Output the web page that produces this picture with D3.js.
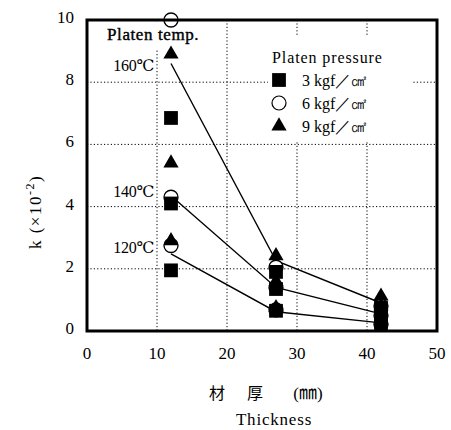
<!DOCTYPE html>
<html>
<head>
<meta charset="utf-8">
<script src="https://cdn.jsdelivr.net/npm/d3@7"></script>
<style>
  body { margin: 0; background: #fff; }
  text { font-family: "Liberation Serif", "DejaVu Serif", serif; fill: #000; }
</style>
</head>
<body>
<div id="chart"></div>
<script>
// thickness (mm) of the board, x values
const THICKNESS = [12, 27, 42];
const TEMPS = ["160℃", "140℃", "120℃"];
const PRESSURES = ["3 kgf／㎠", "6 kgf／㎠", "9 kgf／㎠"];

// k (x10^-2), one row per platen temperature (160, 140, 120)
const K_3KGF = [
  [6.85, 1.9, 0.75],
  [4.1, 1.35, 0.45],
  [1.95, 0.65, 0.2]
];
const K_6KGF = [
  [10.0, 2.05, 0.8],
  [4.3, 1.4, 0.5],
  [2.75, 0.68, 0.22]
];
const K_9KGF = [
  [8.9, 2.42, 1.12],
  [5.4, 1.6, 0.8],
  [2.9, 0.75, 0.35]
];

// fitted lines per temperature
const FIT_160 = [8.6, 2.26, 0.9];
const FIT_140 = [4.35, 1.4, 0.55];
const FIT_120 = [2.48, 0.62, 0.26];

const X_TICKS = [0, 10, 20, 30, 40, 50];
const Y_TICKS = [0, 2, 4, 6, 8, 10];

const width = 451;
const height = 430;
const margin = { top: 20, right: 14, bottom: 99, left: 87 };

const svg = d3.select("#chart")
  .append("svg")
  .attr("width", width)
  .attr("height", height);

const x = d3.scaleLinear()
  .domain([0, 50])
  .range([margin.left, width - margin.right]);

const y = d3.scaleLinear()
  .domain([0, 10])
  .range([height - margin.bottom, margin.top]);

// dotted grid
const grid = svg.append("g")
  .attr("stroke", "#000")
  .attr("stroke-width", 1)
  .attr("stroke-dasharray", "1.2,2.2");

grid.selectAll("line.gx")
  .data(X_TICKS.slice(1, -1))
  .join("line")
  .attr("x1", d => x(d)).attr("x2", d => x(d))
  .attr("y1", y(10)).attr("y2", y(0));

grid.selectAll("line.gy")
  .data(Y_TICKS.slice(1, -1))
  .join("line")
  .attr("x1", x(0)).attr("x2", x(50))
  .attr("y1", d => y(d)).attr("y2", d => y(d));

// white patches behind the labels
svg.append("rect")
  .attr("x", 100).attr("y", 22)
  .attr("width", 115).attr("height", 27)
  .attr("fill", "#fff");

svg.append("rect")
  .attr("x", 268).attr("y", 36)
  .attr("width", 144).attr("height", 106)
  .attr("fill", "#fff");

// fitted lines
const line = d3.line()
  .x((d, i) => x(THICKNESS[i]))
  .y(d => y(d));

svg.selectAll("path.fit")
  .data([FIT_160, FIT_140, FIT_120])
  .join("path")
  .attr("fill", "none")
  .attr("stroke", "#000")
  .attr("stroke-width", 1.4)
  .attr("d", line);

// markers
const squareSym = d3.symbol().type(d3.symbolSquare).size(190);
const triSym = d3.symbol().type(d3.symbolTriangle).size(100);

function flat(rows) {
  return rows.flatMap(r => r.map((k, i) => ({ t: THICKNESS[i], k })));
}

svg.selectAll("circle.p6")
  .data(flat(K_6KGF))
  .join("circle")
  .attr("cx", d => x(d.t))
  .attr("cy", d => y(d.k))
  .attr("r", 7)
  .attr("fill", "#fff")
  .attr("stroke", "#000")
  .attr("stroke-width", 1.3);

svg.selectAll("path.p3")
  .data(flat(K_3KGF))
  .join("path")
  .attr("transform", d => `translate(${x(d.t)},${y(d.k)})`)
  .attr("d", squareSym)
  .attr("fill", "#000");

svg.selectAll("path.p9")
  .data(flat(K_9KGF))
  .join("path")
  .attr("transform", d => `translate(${x(d.t)},${y(d.k)})`)
  .attr("d", triSym)
  .attr("fill", "#000");

// frame
svg.append("rect")
  .attr("x", x(0)).attr("y", y(10))
  .attr("width", x(50) - x(0))
  .attr("height", y(0) - y(10))
  .attr("fill", "none")
  .attr("stroke", "#000")
  .attr("stroke-width", 3);

// tick labels
svg.selectAll("text.xt")
  .data(X_TICKS)
  .join("text")
  .attr("x", d => x(d))
  .attr("y", y(0) + 28)
  .attr("text-anchor", "middle")
  .style("font-size", "17px")
  .text(d => d);

svg.selectAll("text.yt")
  .data(Y_TICKS)
  .join("text")
  .attr("x", x(0) - 13)
  .attr("y", d => y(d) + 3)
  .attr("text-anchor", "end")
  .style("font-size", "17px")
  .text(d => d);

// temperature annotations
svg.append("text")
  .attr("x", 107).attr("y", 40)
  .style("font-size", "17px")
  .style("letter-spacing", "0.6px")
  .attr("stroke", "#000")
  .attr("stroke-width", 0.4)
  .text("Platen temp.");

svg.selectAll("text.temp")
  .data(TEMPS)
  .join("text")
  .attr("x", 154)
  .attr("y", (d, i) => y([FIT_160, FIT_140, FIT_120][i][0]) + [7, 1, -1][i])
  .attr("text-anchor", "end")
  .style("font-size", "16px")
  .style("letter-spacing", "-0.3px")
  .text(d => d);

// legend
svg.append("text")
  .attr("x", 272).attr("y", 63)
  .style("font-size", "16px")
  .style("letter-spacing", "0.9px")
  .text("Platen pressure");

const legend = svg.append("g").attr("transform", "translate(279,80)");

legend.append("path")
  .attr("d", squareSym)
  .attr("fill", "#000");
legend.append("circle")
  .attr("cy", 23).attr("r", 7)
  .attr("fill", "#fff").attr("stroke", "#000").attr("stroke-width", 1.2);
legend.append("path")
  .attr("transform", "translate(0,46)")
  .attr("d", triSym)
  .attr("fill", "#000");

legend.selectAll("text")
  .data(PRESSURES)
  .join("text")
  .attr("x", 23)
  .attr("y", (d, i) => i * 23 + 6)
  .style("font-size", "16px")
  .text(d => d);

// axis titles
const cjk = "'Noto Sans CJK JP', 'Noto Sans CJK SC', sans-serif";
svg.append("text").attr("x", 217).attr("y", 399)
  .attr("text-anchor", "middle").style("font-family", cjk).style("font-size", "16px").text("材");
svg.append("text").attr("x", 255).attr("y", 399)
  .attr("text-anchor", "middle").style("font-family", cjk).style("font-size", "16px").text("厚");
const unit = svg.append("text").attr("x", 308).attr("y", 399)
  .attr("text-anchor", "middle").style("font-size", "17px");
unit.append("tspan").text("(");
unit.append("tspan").style("font-family", cjk).style("font-size", "18px").text("㎜");
unit.append("tspan").text(")");

svg.append("text")
  .attr("x", 274).attr("y", 425)
  .attr("text-anchor", "middle")
  .style("font-size", "17px")
  .style("letter-spacing", "0.8px")
  .text("Thickness");

const yTitle = svg.append("text")
  .attr("transform", "translate(41,212) rotate(-90)")
  .attr("text-anchor", "middle")
  .style("font-size", "17px")
  .style("letter-spacing", "1.5px");
yTitle.append("tspan").text("k  (×10");
yTitle.append("tspan").attr("dy", -7).style("font-size", "12px").text("-2");
yTitle.append("tspan").attr("dy", 7).text(")");
</script>
</body>
</html>
